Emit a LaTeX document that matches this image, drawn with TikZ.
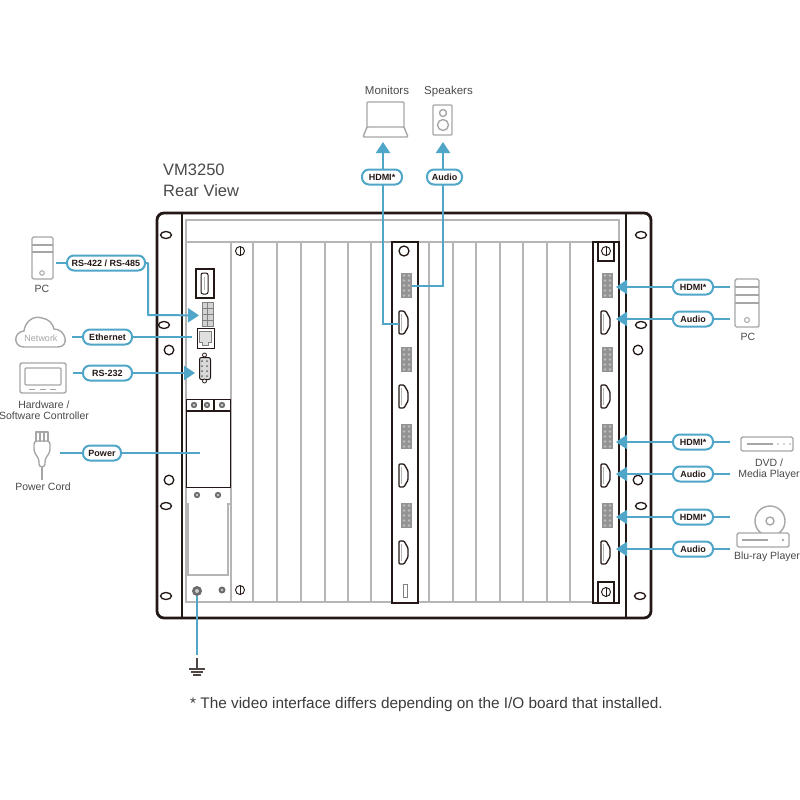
\documentclass[tikz,border=0pt]{standalone}
\usepackage{fontspec}
\setmainfont{Liberation Sans}
\usetikzlibrary{arrows.meta,calc}
\definecolor{wire}{HTML}{4FA6C8}
\definecolor{dev}{HTML}{A6A6A6}
\definecolor{frame}{HTML}{231815}
\definecolor{inner}{HTML}{B5B5B5}
\definecolor{txt}{HTML}{4A4A4A}
\tikzset{
  conn/.style={wire,line width=2pt},
  arr/.style={conn,-{Triangle[length=11pt,width=14pt]}},
  pill/.style={draw=wire,line width=2pt,fill=white,rounded corners=7pt,minimum height=15pt,inner sep=0pt,text=frame,font=\fontsize{9}{9}\selectfont\bfseries},
  device/.style={draw=dev,line width=1.4pt,line join=round},
  lab/.style={text=txt,font=\fontsize{10.5}{11.5}\selectfont,inner sep=0pt,align=center},
  toplab/.style={text=txt,font=\fontsize{11.5}{12}\selectfont,inner sep=0pt,anchor=base},
  shell/.style={draw=frame,line width=2.8pt},
  thin/.style={draw=frame,line width=1.1pt},
  grayline/.style={draw=inner,line width=1.3pt},
  hole/.style={draw=frame,line width=1.3pt,fill=white},
  anchorbox/.style={inner sep=0pt,minimum size=0pt},
}
\newcommand{\portblock}[3]{% name x y(top)
  \node[anchorbox,minimum width=11pt,minimum height=25pt,fill=gray!85,anchor=north west] (#1) at (#2,#3) {};
  \foreach \r in {2.5,7.5,12.5,17.5,22.5}{\foreach \c in {3,8}{\fill[white,opacity=.4] ({#2+\c},{#3+\r}) circle (1.4pt);}}
}
\newcommand{\hdmiport}[3]{% name x y(top)
  \node[anchorbox,minimum width=9pt,minimum height=23pt,anchor=north west] (#1) at (#2,#3) {};
  \draw[frame,line width=1.3pt,rounded corners=1pt] (#2,#3) -- ({#2+5},#3) -- ({#2+9},{#3+7}) -- ({#2+9},{#3+16}) -- ({#2+5},{#3+23}) -- (#2,{#3+23}) -- cycle;
  \draw[inner,line width=1pt] ({#2+2.5},{#3+3}) -- ({#2+2.5},{#3+20});
}
\newcommand{\slotscrew}[2]{%
  \draw[frame,line width=.9pt,fill=white] (#1,#2) circle (4.5pt);
  \draw[frame,line width=1pt] (#1,{#2-4.5}) -- (#1,{#2+4.5});
}
\newcommand{\grayscrew}[3]{%
  \fill[gray!85!black] (#1,#2) circle (#3pt);
  \fill[gray!40] (#1,#2) circle ({#3*.4pt});
}
\newcommand{\earoval}[2]{\draw[hole] (#1,#2) ellipse (5.5pt and 3.5pt);}
\newcommand{\earhole}[2]{\draw[hole] (#1,#2) circle (4.8pt);}
\begin{document}
\begin{tikzpicture}[x=1pt,y=-1pt]
\useasboundingbox (0,0) rectangle (800,800);
\fill[white] (0,0) rectangle (800,800);
% ---------- chassis
\draw[shell,rounded corners=7pt] (157,213) rectangle (651,618);
\draw[shell] (182,213) -- (182,618);
\draw[shell] (626,213) -- (626,618);
\draw[grayline] (186,242) -- (186,220) -- (619,220) -- (619,242);
\draw[grayline] (186,242) -- (619,242);
\draw[grayline] (186,242) -- (186,602) -- (619,602);
\foreach \x in {231,253,277,301,325,348,371,429,453,476,500,523,547,570}{\draw[grayline] (\x,242) -- (\x,602);}
\foreach \x/\y in {166/235,164/325,166/506,166/596,641/235,641/325,641/506,640/596}{\earoval{\x}{\y}}
\foreach \x/\y in {169/350,169/480,638/350,638/480}{\earhole{\x}{\y}}
% ---------- left control board
\slotscrew{240}{251}\slotscrew{240}{590}
\draw[thin] (196,269) rectangle (214,298);
\draw[frame,line width=1pt,rounded corners=2pt,fill=white] (201,273) rectangle (208,294);
\draw[inner,line width=1pt] (204,277) -- (204,290);
\node[anchorbox,draw=gray,line width=.8pt,minimum width=11pt,minimum height=24pt,anchor=north west,fill=gray!35] (ctrlports) at (202,302) {};
\foreach \y in {308,314,320}{\draw[gray,line width=.8pt] (202,\y) -- (213,\y);}
\draw[gray,line width=.8pt] (207.5,302) -- (207.5,326);
\node[anchorbox,draw=frame,line width=1.1pt,minimum width=17pt,minimum height=20pt,anchor=north west,fill=white] (rj) at (197,328) {};
\draw[gray,line width=1pt,fill=gray!25] (199,331) -- (211,331) -- (211,342) -- (208,342) -- (208,345) -- (202,345) -- (202,342) -- (199,342) -- cycle;
\node[anchorbox,draw=frame,line width=1pt,rounded corners=2pt,minimum width=11pt,minimum height=22pt,anchor=north west,fill=gray!30] (db) at (199,357) {};
\foreach \y in {355,381}{\draw[frame,line width=.8pt,fill=white] (204.5,\y) circle (2pt);}
\foreach \y in {361,366,371,376}{\fill[gray!80!black] (202,\y) circle (1pt);\fill[gray!80!black] (207,\y) circle (1pt);}
\node[anchorbox,draw=frame,line width=1.2pt,minimum width=44pt,minimum height=88pt,anchor=north west] (psu) at (186,399) {};
\draw[thin] (186,411) -- (230,411);
\draw[thin] (202,399) -- (202,411);
\draw[thin] (214,399) -- (214,411);
\grayscrew{194}{405}{3.2}\grayscrew{207}{405}{3.2}\grayscrew{222}{405}{3.2}
\grayscrew{197}{495}{3.2}\grayscrew{218}{495}{3.2}
\draw[grayline] (186,504) -- (188,504) -- (188,575) -- (228,575) -- (228,504) -- (230,504);
\node[anchorbox,minimum size=10pt] (gnd) at (197,591) {};
\grayscrew{197}{591}{5}\grayscrew{222}{590}{3.5}
% ---------- middle board
\draw[frame,line width=1.6pt,fill=white] (392,242) rectangle (418,603);
\draw[hole] (404,251) circle (5pt);
\portblock{ma}{401}{273}\hdmiport{mb}{399}{311}
\portblock{mc}{401}{347}\hdmiport{md}{399}{385}
\portblock{me}{401}{424}\hdmiport{mf}{399}{464}
\portblock{mg}{401}{503}\hdmiport{mh}{399}{541}
\draw[gray,line width=1pt] (403,584) rectangle (407,597);
% ---------- right board
\draw[frame,line width=1.6pt,fill=white] (593,242) rectangle (619,603);
\draw[thin] (598,243) -- (598,261) -- (614,261) -- (614,243);
\draw[thin] (598,603) -- (598,582) -- (614,582) -- (614,603);
\slotscrew{606}{251}\slotscrew{606}{592}
\portblock{ra}{602}{273}\hdmiport{rb}{601}{311}
\portblock{rc}{602}{347}\hdmiport{rd}{601}{385}
\portblock{re}{602}{424}\hdmiport{rf}{601}{464}
\portblock{rg}{602}{503}\hdmiport{rh}{601}{541}
% ---------- headings
\node[anchor=west,inner sep=0pt,text=txt,font=\fontsize{16.5}{20}\selectfont,align=left] (title) at (163,180) {VM3250\\[1pt]Rear View};
\node[toplab] (monlab) at (387,94) {Monitors};
\node[toplab] (spklab) at (448.5,94) {Speakers};
% ---------- top devices
\node[anchorbox,minimum width=45pt,minimum height=35pt] (laptop) at (385.5,119.5) {};
\draw[device,rounded corners=1pt] (367,127) -- (367,102) -- (404,102) -- (404,127);
\draw[device,rounded corners=1pt] (367,127) -- (404,127) -- (408,137) -- (363,137) -- cycle;
\node[anchorbox,draw=dev,line width=1.4pt,rounded corners=1pt,minimum width=19pt,minimum height=30pt] (speaker) at (442.5,120) {};
\draw[device] (443,113) circle (3.5pt);
\draw[device] (443,125) circle (5.5pt);
% ---------- left devices
\node[anchorbox,draw=dev,line width=1.4pt,rounded corners=1.5pt,minimum width=21pt,minimum height=42pt] (pcl) at (42.5,258) {};
\draw[device] (32,245) -- (53,245) (32,252) -- (53,252);
\draw[device,line width=1pt] (42,273) circle (2.3pt);
\node[lab] (pcllab) at (42,289) {PC};
\node[anchorbox,minimum width=49pt,minimum height=29pt] (cloud) at (41.5,333) {};
\draw[device,rounded corners=0pt] (24,347) .. controls (13,347) and (13,332) .. (24,331) .. controls (25,322) and (33,315) .. (42,318) .. controls (49,319) and (53,324) .. (54,329) .. controls (66,329) and (70,347) .. (58,347) -- cycle;
\node[inner sep=0pt,text=dev,font=\fontsize{9}{9}\selectfont] (netlab) at (41,338) {Network};
\node[anchorbox,draw=dev,line width=1.4pt,rounded corners=2pt,minimum width=46pt,minimum height=30pt] (ctrl) at (43,378) {};
\draw[device,rounded corners=1pt] (25,368) rectangle (61,385);
\draw[device] (29,389.5) -- (35,389.5) (40,389.5) -- (46,389.5) (50,389.5) -- (56,389.5);
\node[lab] (ctrllab) at (44,410) {Hardware /\\Software Controller};
\node[anchorbox,minimum width=17pt,minimum height=48pt] (cord) at (42,456) {};
\draw[device] (36,442) -- (36,432) -- (48,432) -- (48,442) (40,432) -- (40,442) (44,432) -- (44,442);
\draw[device,rounded corners=3pt] (34,441) -- (50,441) -- (50,452) -- (45,459) -- (45,467) -- (39,467) -- (39,459) -- (34,452) -- cycle;
\draw[device] (42,467) -- (42,480);
\node[lab] (cordlab) at (43,487) {Power Cord};
% ---------- right devices
\node[anchorbox,draw=dev,line width=1.4pt,rounded corners=1.5pt,minimum width=24pt,minimum height=48pt] (pcr) at (747,303) {};
\draw[device] (735,287) -- (759,287) (735,295) -- (759,295) (735,303) -- (759,303);
\draw[device,line width=1pt] (747,320) circle (2.5pt);
\node[lab] (pcrlab) at (748,337) {PC};
\node[anchorbox,draw=dev,line width=1.4pt,rounded corners=1.5pt,minimum width=52pt,minimum height=14pt] (dvd) at (767,444) {};
\draw[device] (747,444) -- (773,444);
\foreach \x in {778,784,790}{\fill[dev] (\x,444) circle (.9pt);}
\node[lab] (dvdlab) at (769,469.5) {DVD /\\Media Player};
\draw[device] (770,521) circle (15pt);
\draw[device] (770,521) circle (4pt);
\node[anchorbox,draw=dev,line width=1.4pt,rounded corners=1.5pt,minimum width=52pt,minimum height=14pt,fill=white] (blu) at (763,540) {};
\draw[device] (742,540) -- (768,540);
\fill[dev] (783,540) circle (1.3pt);
\node[lab] (blulab) at (767,557) {Blu-ray Player};
% ---------- free ends
\coordinate (rtip) at (616,0);
\coordinate (rstart) at (730,0);
\coordinate (a1) at (56,263);
\coordinate (a2) at (72,337);
\coordinate (a3) at (73,373);
\coordinate (a4) at (60,453);
\coordinate (ethend) at (192,337);
\coordinate (powend) at (200,453);
\coordinate (gndend) at (197,655);
% ---------- pills
\node[pill,minimum width=78pt] (p422) at (106,263) {RS-422 / RS-485};
\node[pill,minimum width=49pt] (peth) at (107.5,337) {Ethernet};
\node[pill,minimum width=49pt] (p232) at (107.5,373) {RS-232};
\node[pill,minimum width=38pt] (ppow) at (102,453) {Power};
\node[pill,minimum width=40pt] (pmh) at (382,177) {HDMI*};
\node[pill,minimum width=35pt] (pma) at (444.5,177) {Audio};
\node[pill,minimum width=40pt] (r1) at (693,287) {HDMI*};
\node[pill,minimum width=40pt] (r2) at (693,319) {Audio};
\node[pill,minimum width=40pt] (r3) at (693,442) {HDMI*};
\node[pill,minimum width=40pt] (r4) at (693,474) {Audio};
\node[pill,minimum width=40pt] (r5) at (693,517) {HDMI*};
\node[pill,minimum width=40pt] (r6) at (693,549) {Audio};
% ---------- connectors
\draw[conn] (a1) -- (p422.west);
\draw[arr,line join=round] (p422.east) -- (148,263) -- (148,315) -- ($(ctrlports.west)+(-3,1)$);
\draw[conn] (a2) -- (peth.west);
\draw[conn] (peth.east) -- (ethend);
\draw[conn] (a3) -- (p232.west);
\draw[arr] (p232.east) -- ($(p232.east -| db.west)+(-4,0)$);
\draw[conn] (a4) -- (ppow.west);
\draw[conn] (ppow.east) -- (powend);
\draw[conn] (gnd.south) -- (gndend);
\draw[conn] (mb.west |- 0,324) -- (383,324) -- (383,184.5);
\draw[arr] (383,169.5) -- (383,142);
\draw[conn] (ma.east |- 0,286) -- (443,286) -- (443,184.5);
\draw[arr] (443,169.5) -- (443,142);
\foreach \n in {r1,r2,r3,r4,r5,r6}{
  \draw[conn] (\n.east -| rstart) -- (\n.east);
  \draw[arr] (\n.west) -- (\n.west -| rtip);
}
% ---------- ground symbol
\coordinate (g0) at (197,658);
\draw[frame!80,line width=1.1pt] (g0) -- (197,669);
\draw[frame!80,line width=1.1pt] (189,669) -- (205,669) (191,672) -- (203,672) (193,675) -- (201,675);
% ---------- footnote
\node[anchor=west,inner sep=0pt,text=txt!80!black,font=\fontsize{15.35}{16}\selectfont] (note) at (190,705) {* The video interface differs depending on the I/O board that installed.};
\end{tikzpicture}
\end{document}
